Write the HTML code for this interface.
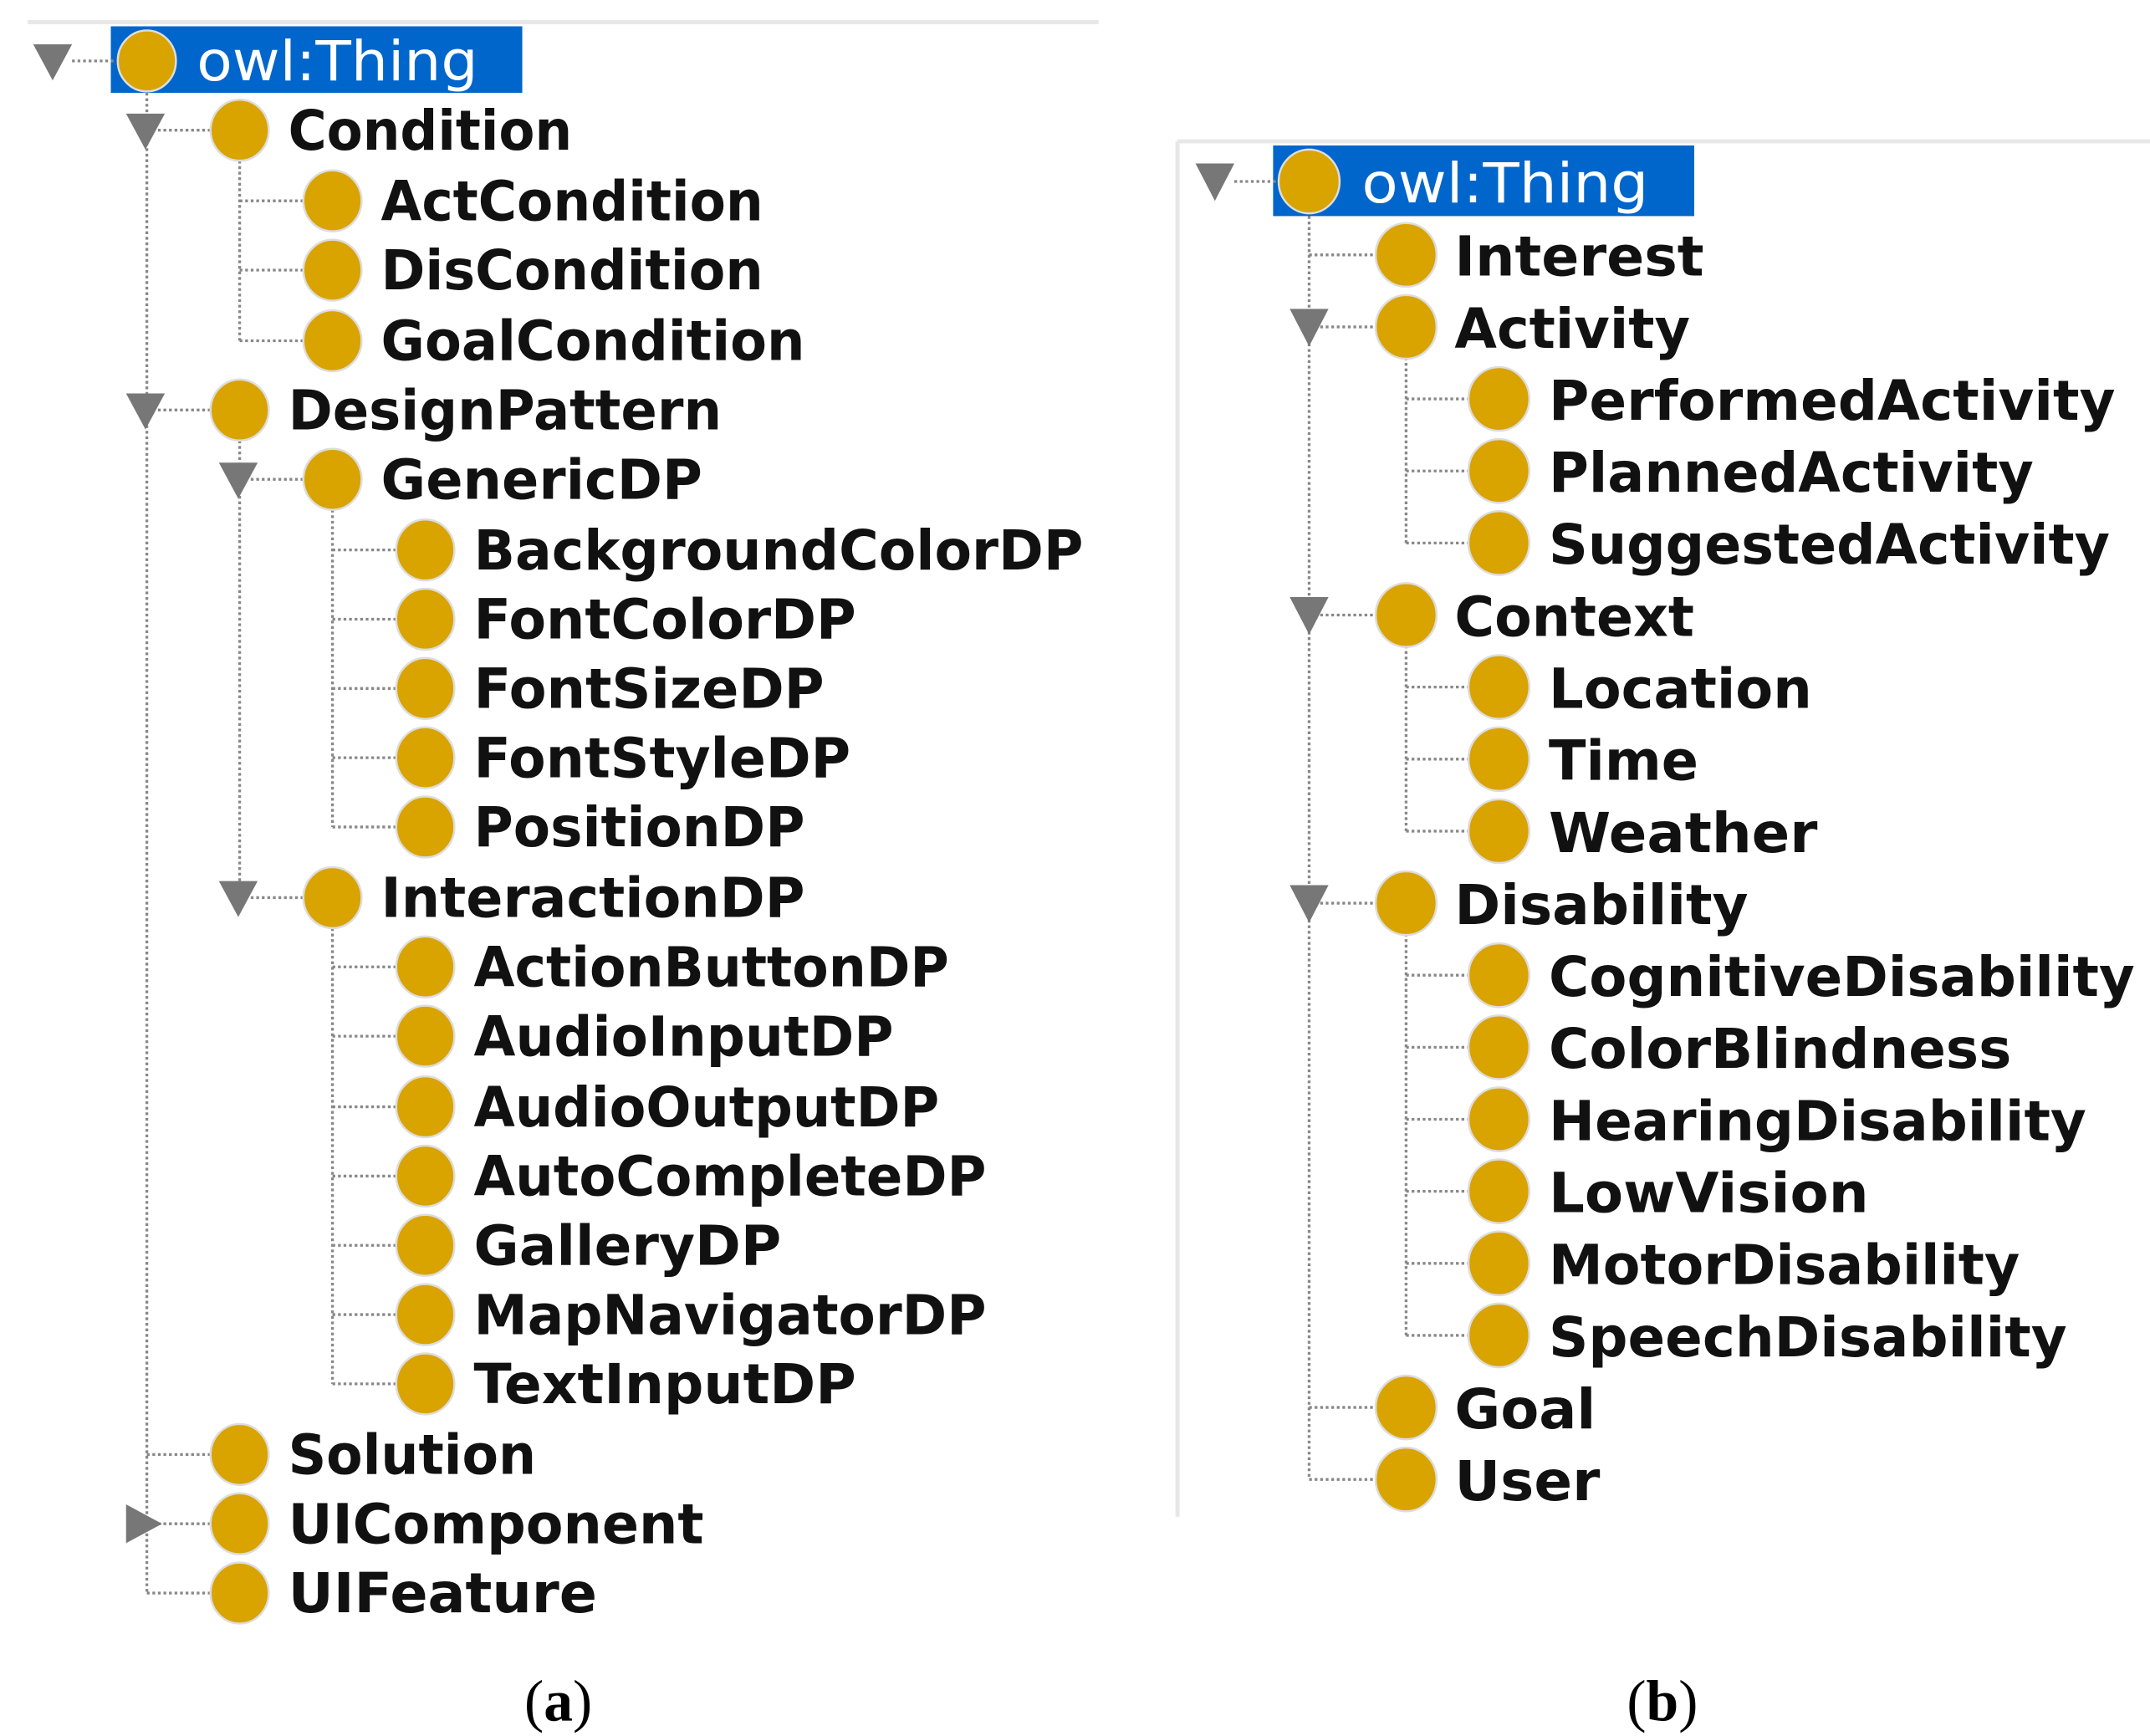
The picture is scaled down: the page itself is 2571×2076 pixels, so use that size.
<!DOCTYPE html>
<html><head><meta charset="utf-8"><style>
html,body{margin:0;padding:0;background:#fff;}
svg{display:block;}
.t{font-family:"DejaVu Sans","Liberation Sans",sans-serif;font-weight:bold;font-size:40px;fill:#111;}
.w{font-family:"DejaVu Sans","Liberation Sans",sans-serif;font-size:40px;fill:#fff;}
.c{fill:#D9A300;stroke:#ddd;stroke-width:1.5;}
.d{stroke:#888;stroke-width:2;stroke-dasharray:2 2;fill:none;}
.tri{fill:#777;}
.cap{font-family:"Liberation Serif",serif;font-size:42px;fill:#000;}
</style></head><body>
<svg width="2571" height="2076" viewBox="0 0 1552 1253.2" preserveAspectRatio="none" xmlns="http://www.w3.org/2000/svg">
<!-- LEFT PANEL -->
<line x1="20" y1="16" x2="793" y2="16" stroke="#e8e8e8" stroke-width="3"/>
<rect x="80" y="19" width="297" height="48" fill="#0066CC"/>
<!-- connectors -->
<line class="d" x1="106" y1="67" x2="106" y2="1150"/>
<line class="d" x1="173" y1="116" x2="173" y2="246"/>
<line class="d" x1="173" y1="318" x2="173" y2="648"/>
<line class="d" x1="240" y1="368" x2="240" y2="597"/>
<line class="d" x1="240" y1="670" x2="240" y2="999"/>
<g class="d">
<line x1="52" y1="44" x2="84" y2="44"/>
<line x1="106" y1="94" x2="152" y2="94"/>
<line x1="173" y1="145" x2="219" y2="145"/>
<line x1="173" y1="195" x2="219" y2="195"/>
<line x1="173" y1="246" x2="219" y2="246"/>
<line x1="106" y1="296" x2="152" y2="296"/>
<line x1="173" y1="346" x2="219" y2="346"/>
<line x1="240" y1="397" x2="286" y2="397"/>
<line x1="240" y1="447" x2="286" y2="447"/>
<line x1="240" y1="497" x2="286" y2="497"/>
<line x1="240" y1="547" x2="286" y2="547"/>
<line x1="240" y1="597" x2="286" y2="597"/>
<line x1="173" y1="648" x2="219" y2="648"/>
<line x1="240" y1="698" x2="286" y2="698"/>
<line x1="240" y1="748" x2="286" y2="748"/>
<line x1="240" y1="799" x2="286" y2="799"/>
<line x1="240" y1="849" x2="286" y2="849"/>
<line x1="240" y1="899" x2="286" y2="899"/>
<line x1="240" y1="949" x2="286" y2="949"/>
<line x1="240" y1="999" x2="286" y2="999"/>
<line x1="106" y1="1050" x2="152" y2="1050"/>
<line x1="106" y1="1100" x2="152" y2="1100"/>
<line x1="106" y1="1150" x2="152" y2="1150"/>
</g>
<!-- triangles -->
<polygon class="tri" points="24,32 52,32 38,58"/>
<polygon class="tri" points="91,82 119,82 105,108"/>
<polygon class="tri" points="91,284 119,284 105,310"/>
<polygon class="tri" points="158,334 186,334 172,360"/>
<polygon class="tri" points="158,636 186,636 172,662"/>
<polygon class="tri" points="91,1086 91,1114 117,1100"/>
<!-- circles -->
<ellipse class="c" cx="106" cy="44" rx="21" ry="22"/>
<ellipse class="c" cx="173" cy="94" rx="21" ry="22"/>
<ellipse class="c" cx="240" cy="145" rx="21" ry="22"/>
<ellipse class="c" cx="240" cy="195" rx="21" ry="22"/>
<ellipse class="c" cx="240" cy="246" rx="21" ry="22"/>
<ellipse class="c" cx="173" cy="296" rx="21" ry="22"/>
<ellipse class="c" cx="240" cy="346" rx="21" ry="22"/>
<ellipse class="c" cx="307" cy="397" rx="21" ry="22"/>
<ellipse class="c" cx="307" cy="447" rx="21" ry="22"/>
<ellipse class="c" cx="307" cy="497" rx="21" ry="22"/>
<ellipse class="c" cx="307" cy="547" rx="21" ry="22"/>
<ellipse class="c" cx="307" cy="597" rx="21" ry="22"/>
<ellipse class="c" cx="240" cy="648" rx="21" ry="22"/>
<ellipse class="c" cx="307" cy="698" rx="21" ry="22"/>
<ellipse class="c" cx="307" cy="748" rx="21" ry="22"/>
<ellipse class="c" cx="307" cy="799" rx="21" ry="22"/>
<ellipse class="c" cx="307" cy="849" rx="21" ry="22"/>
<ellipse class="c" cx="307" cy="899" rx="21" ry="22"/>
<ellipse class="c" cx="307" cy="949" rx="21" ry="22"/>
<ellipse class="c" cx="307" cy="999" rx="21" ry="22"/>
<ellipse class="c" cx="173" cy="1050" rx="21" ry="22"/>
<ellipse class="c" cx="173" cy="1100" rx="21" ry="22"/>
<ellipse class="c" cx="173" cy="1150" rx="21" ry="22"/>
<!-- labels -->
<text class="w" x="142" y="58" textLength="203" lengthAdjust="spacingAndGlyphs">owl:Thing</text>
<text class="t" x="208" y="108" textLength="205" lengthAdjust="spacingAndGlyphs">Condition</text>
<text class="t" x="275" y="159" textLength="276" lengthAdjust="spacingAndGlyphs">ActCondition</text>
<text class="t" x="275" y="209" textLength="276" lengthAdjust="spacingAndGlyphs">DisCondition</text>
<text class="t" x="275" y="260" textLength="306" lengthAdjust="spacingAndGlyphs">GoalCondition</text>
<text class="t" x="208" y="310" textLength="313" lengthAdjust="spacingAndGlyphs">DesignPattern</text>
<text class="t" x="275" y="360" textLength="232" lengthAdjust="spacingAndGlyphs">GenericDP</text>
<text class="t" x="342" y="411" textLength="440" lengthAdjust="spacingAndGlyphs">BackgroundColorDP</text>
<text class="t" x="342" y="461" textLength="276" lengthAdjust="spacingAndGlyphs">FontColorDP</text>
<text class="t" x="342" y="511" textLength="253" lengthAdjust="spacingAndGlyphs">FontSizeDP</text>
<text class="t" x="342" y="561" textLength="272" lengthAdjust="spacingAndGlyphs">FontStyleDP</text>
<text class="t" x="342" y="611" textLength="239" lengthAdjust="spacingAndGlyphs">PositionDP</text>
<text class="t" x="275" y="662" textLength="306" lengthAdjust="spacingAndGlyphs">InteractionDP</text>
<text class="t" x="342" y="712" textLength="343" lengthAdjust="spacingAndGlyphs">ActionButtonDP</text>
<text class="t" x="342" y="762" textLength="303" lengthAdjust="spacingAndGlyphs">AudioInputDP</text>
<text class="t" x="342" y="813" textLength="336" lengthAdjust="spacingAndGlyphs">AudioOutputDP</text>
<text class="t" x="342" y="863" textLength="370" lengthAdjust="spacingAndGlyphs">AutoCompleteDP</text>
<text class="t" x="342" y="913" textLength="222" lengthAdjust="spacingAndGlyphs">GalleryDP</text>
<text class="t" x="342" y="963" textLength="370" lengthAdjust="spacingAndGlyphs">MapNavigatorDP</text>
<text class="t" x="342" y="1013" textLength="276" lengthAdjust="spacingAndGlyphs">TextInputDP</text>
<text class="t" x="208" y="1064" textLength="179" lengthAdjust="spacingAndGlyphs">Solution</text>
<text class="t" x="208" y="1114" textLength="300" lengthAdjust="spacingAndGlyphs">UIComponent</text>
<text class="t" x="208" y="1164" textLength="223" lengthAdjust="spacingAndGlyphs">UIFeature</text>

<!-- RIGHT PANEL -->
<line x1="850" y1="102" x2="1552" y2="102" stroke="#e8e8e8" stroke-width="3"/>
<line x1="850" y1="102" x2="850" y2="1095" stroke="#e8e8e8" stroke-width="3"/>
<rect x="919" y="105" width="304" height="51" fill="#0066CC"/>
<line class="d" x1="945" y1="156" x2="945" y2="1068"/>
<line class="d" x1="1015" y1="258" x2="1015" y2="392"/>
<line class="d" x1="1015" y1="466" x2="1015" y2="600"/>
<line class="d" x1="1015" y1="674" x2="1015" y2="964"/>
<g class="d">
<line x1="891" y1="131" x2="924" y2="131"/>
<line x1="945" y1="184" x2="994" y2="184"/>
<line x1="945" y1="236" x2="994" y2="236"/>
<line x1="1015" y1="288" x2="1061" y2="288"/>
<line x1="1015" y1="340" x2="1061" y2="340"/>
<line x1="1015" y1="392" x2="1061" y2="392"/>
<line x1="945" y1="444" x2="994" y2="444"/>
<line x1="1015" y1="496" x2="1061" y2="496"/>
<line x1="1015" y1="548" x2="1061" y2="548"/>
<line x1="1015" y1="600" x2="1061" y2="600"/>
<line x1="945" y1="652" x2="994" y2="652"/>
<line x1="1015" y1="704" x2="1061" y2="704"/>
<line x1="1015" y1="756" x2="1061" y2="756"/>
<line x1="1015" y1="808" x2="1061" y2="808"/>
<line x1="1015" y1="860" x2="1061" y2="860"/>
<line x1="1015" y1="912" x2="1061" y2="912"/>
<line x1="1015" y1="964" x2="1061" y2="964"/>
<line x1="945" y1="1016" x2="994" y2="1016"/>
<line x1="945" y1="1068" x2="994" y2="1068"/>
</g>
<polygon class="tri" points="863,118 891,118 877,145"/>
<polygon class="tri" points="931,223 959,223 945,250"/>
<polygon class="tri" points="931,431 959,431 945,458"/>
<polygon class="tri" points="931,639 959,639 945,666"/>
<ellipse class="c" cx="945" cy="131" rx="22" ry="23"/>
<ellipse class="c" cx="1015" cy="184" rx="22" ry="23"/>
<ellipse class="c" cx="1015" cy="236" rx="22" ry="23"/>
<ellipse class="c" cx="1082" cy="288" rx="22" ry="23"/>
<ellipse class="c" cx="1082" cy="340" rx="22" ry="23"/>
<ellipse class="c" cx="1082" cy="392" rx="22" ry="23"/>
<ellipse class="c" cx="1015" cy="444" rx="22" ry="23"/>
<ellipse class="c" cx="1082" cy="496" rx="22" ry="23"/>
<ellipse class="c" cx="1082" cy="548" rx="22" ry="23"/>
<ellipse class="c" cx="1082" cy="600" rx="22" ry="23"/>
<ellipse class="c" cx="1015" cy="652" rx="22" ry="23"/>
<ellipse class="c" cx="1082" cy="704" rx="22" ry="23"/>
<ellipse class="c" cx="1082" cy="756" rx="22" ry="23"/>
<ellipse class="c" cx="1082" cy="808" rx="22" ry="23"/>
<ellipse class="c" cx="1082" cy="860" rx="22" ry="23"/>
<ellipse class="c" cx="1082" cy="912" rx="22" ry="23"/>
<ellipse class="c" cx="1082" cy="964" rx="22" ry="23"/>
<ellipse class="c" cx="1015" cy="1016" rx="22" ry="23"/>
<ellipse class="c" cx="1015" cy="1068" rx="22" ry="23"/>
<text class="w" x="983" y="146" textLength="207" lengthAdjust="spacingAndGlyphs">owl:Thing</text>
<text class="t" x="1050" y="199" textLength="180" lengthAdjust="spacingAndGlyphs">Interest</text>
<text class="t" x="1050" y="251" textLength="170" lengthAdjust="spacingAndGlyphs">Activity</text>
<text class="t" x="1118" y="303" textLength="409" lengthAdjust="spacingAndGlyphs">PerformedActivity</text>
<text class="t" x="1118" y="355" textLength="350" lengthAdjust="spacingAndGlyphs">PlannedActivity</text>
<text class="t" x="1118" y="407" textLength="405" lengthAdjust="spacingAndGlyphs">SuggestedActivity</text>
<text class="t" x="1050" y="459" textLength="173" lengthAdjust="spacingAndGlyphs">Context</text>
<text class="t" x="1118" y="511" textLength="190" lengthAdjust="spacingAndGlyphs">Location</text>
<text class="t" x="1118" y="563" textLength="108" lengthAdjust="spacingAndGlyphs">Time</text>
<text class="t" x="1118" y="615" textLength="194" lengthAdjust="spacingAndGlyphs">Weather</text>
<text class="t" x="1050" y="667" textLength="212" lengthAdjust="spacingAndGlyphs">Disability</text>
<text class="t" x="1118" y="719" textLength="423" lengthAdjust="spacingAndGlyphs">CognitiveDisability</text>
<text class="t" x="1118" y="771" textLength="334" lengthAdjust="spacingAndGlyphs">ColorBlindness</text>
<text class="t" x="1118" y="823" textLength="388" lengthAdjust="spacingAndGlyphs">HearingDisability</text>
<text class="t" x="1118" y="875" textLength="231" lengthAdjust="spacingAndGlyphs">LowVision</text>
<text class="t" x="1118" y="927" textLength="340" lengthAdjust="spacingAndGlyphs">MotorDisability</text>
<text class="t" x="1118" y="979" textLength="374" lengthAdjust="spacingAndGlyphs">SpeechDisability</text>
<text class="t" x="1050" y="1031" textLength="102" lengthAdjust="spacingAndGlyphs">Goal</text>
<text class="t" x="1050" y="1083" textLength="105" lengthAdjust="spacingAndGlyphs">User</text>

<!-- captions -->
<text class="cap" x="403" y="1242" text-anchor="middle">(<tspan font-weight="bold">a</tspan>)</text>
<text class="cap" x="1200" y="1242" text-anchor="middle">(<tspan font-weight="bold">b</tspan>)</text>
</svg>
</body></html>
